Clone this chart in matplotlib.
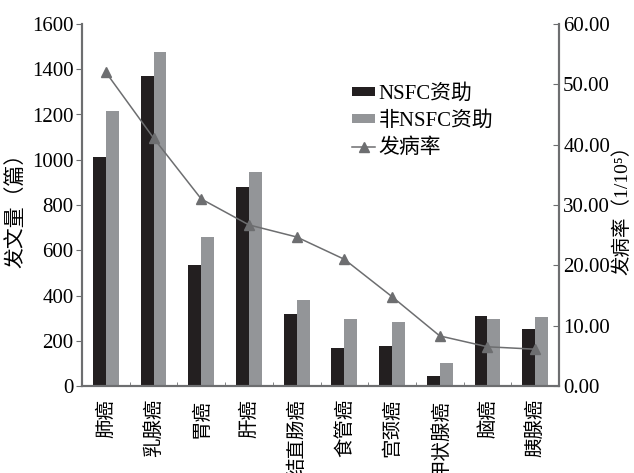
import numpy as np
import matplotlib
matplotlib.use("Agg")
import matplotlib.pyplot as plt

plt.rcParams["font.family"] = ["Liberation Serif", "Noto Sans CJK SC", "DejaVu Serif"]

cancers = ["肺癌", "乳腺癌", "胃癌", "肝癌", "结直肠癌", "食管癌", "宫颈癌", "甲状腺癌", "脑癌", "胰腺癌"]
nsfc = [1012, 1370, 535, 880, 318, 168, 177, 44, 310, 252]
non_nsfc = [1215, 1476, 658, 946, 380, 296, 283, 102, 298, 305]
incidence = [52.0, 41.1, 31.0, 26.7, 24.7, 21.0, 14.8, 8.3, 6.5, 6.1]

black = "#231f20"
gray = "#939598"
line_c = "#6d6e70"
spine_c = "#6d6e70"

fig = plt.figure(figsize=(6.34, 4.73), dpi=100)
ax = fig.add_axes([82 / 634, 1 - 386 / 473, 477 / 634, 362 / 473])
ax2 = ax.twinx()

x = np.arange(len(cancers))
w = 0.27
b1 = ax.bar(x - w / 2, nsfc, w, color=black, label="NSFC资助")
b2 = ax.bar(x + w / 2, non_nsfc, w, color=gray, label="非NSFC资助")
l1, = ax2.plot(x, incidence, color=line_c, lw=1.1, marker="^", ms=7,
               markerfacecolor=line_c, markeredgecolor=line_c, label="发病率")

ax.set_xlim(-0.5, len(cancers) - 0.5)
ax.set_ylim(0, 1600)
ax.set_yticks(range(0, 1601, 200))
ax2.set_ylim(0, 60)
ax2.set_yticks(range(0, 61, 10))
ax2.set_yticklabels([f"{v:.2f}" for v in range(0, 61, 10)])

ax.set_xticks(x)
ax.set_xticklabels(cancers, rotation=90, fontsize=14, family=["Noto Sans CJK SC"])
ax.set_xticks(np.arange(0.5, len(cancers) - 0.5, 1), minor=True)
ax.tick_params(axis="x", which="major", length=0, pad=9)
ax.tick_params(axis="x", which="minor", length=3, direction="in", color=spine_c)
ax.tick_params(axis="y", labelsize=15, length=4, color=spine_c, pad=2)
ax2.tick_params(axis="y", labelsize=15, length=4, direction="in", color=spine_c, pad=3)

for a in (ax, ax2):
    a.spines["top"].set_visible(False)
    for s in ("left", "right", "bottom"):
        a.spines[s].set_color(spine_c)
        a.spines[s].set_linewidth(1.5)

ax.set_ylabel("发文量（篇）", fontsize=15, labelpad=4)
ax2.set_ylabel("发病率（1/10⁵）", fontsize=14, labelpad=2)

fig.legend([b1, b2, l1], ["NSFC资助", "非NSFC资助", "发病率"],
           loc="upper left", bbox_to_anchor=(344 / 634, 1 - 76 / 473),
           frameon=False, fontsize=15, handlelength=1.1, handleheight=0.3,
           handletextpad=0.15, labelspacing=0.35, borderaxespad=0)

fig.savefig("out.png", dpi=100)
